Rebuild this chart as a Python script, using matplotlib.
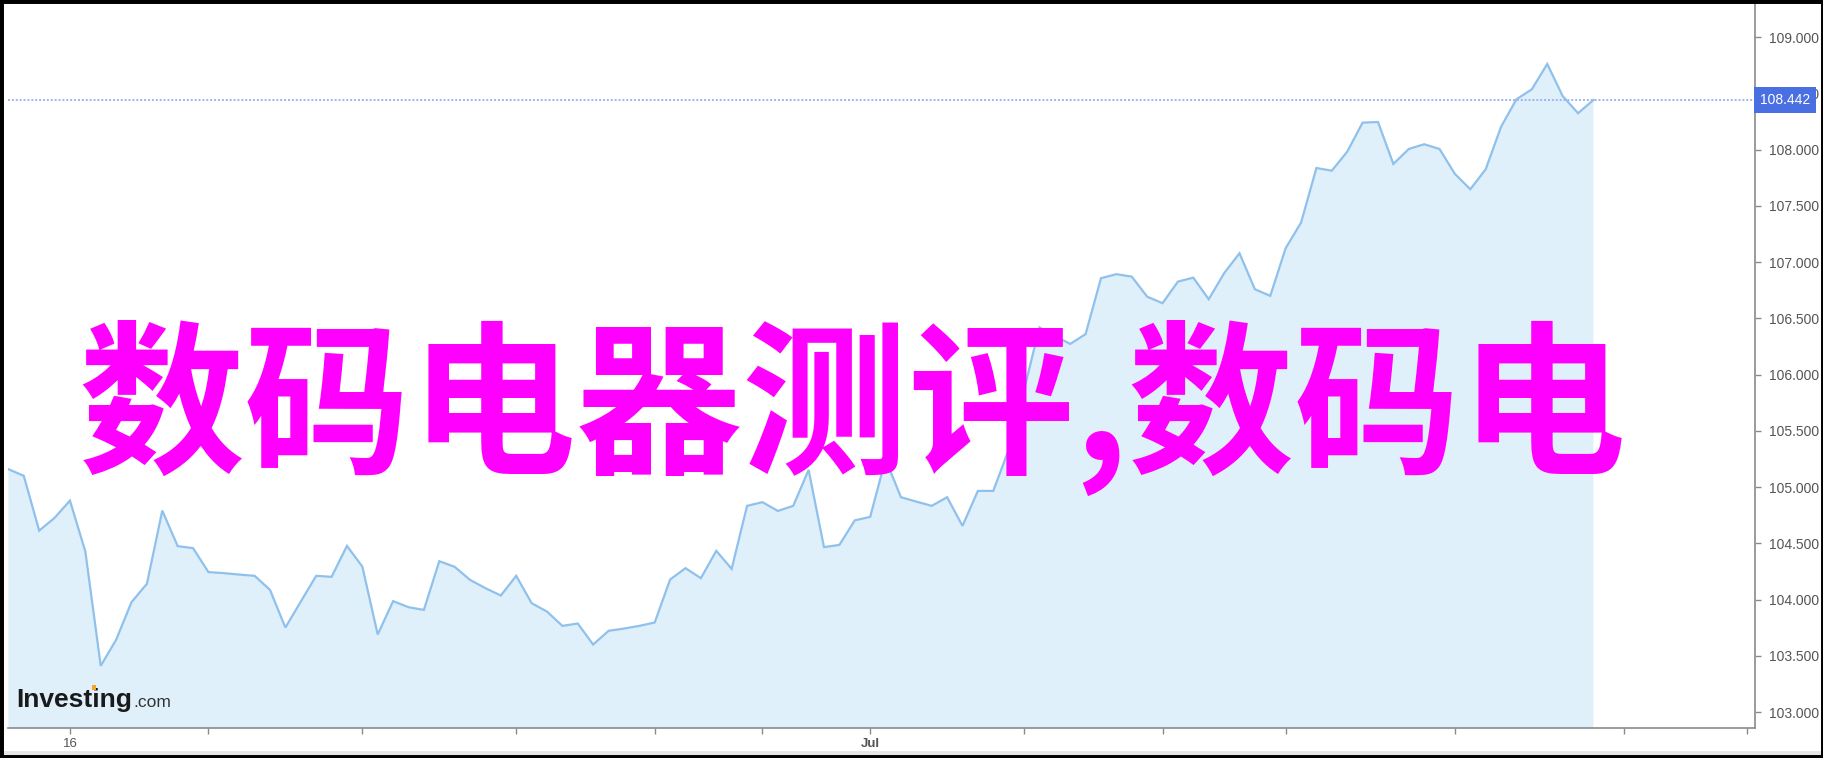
import numpy as np
import matplotlib
matplotlib.use("Agg")
import matplotlib.pyplot as plt
import matplotlib.transforms as mtransforms
from matplotlib.patches import Rectangle

# ---------------- data ----------------
prices = [
    105.159, 105.100, 104.613, 104.726, 104.880, 104.427, 103.411, 103.642, 103.977, 104.140,
    104.791, 104.475, 104.457, 104.244, 104.235, 104.222, 104.211, 104.086, 103.751, 103.982,
    104.211, 104.202, 104.477, 104.293, 103.689, 103.986, 103.932, 103.908, 104.341, 104.291,
    104.175, 104.101, 104.036, 104.211, 103.968, 103.893, 103.766, 103.787, 103.600, 103.722,
    103.742, 103.766, 103.796, 104.178, 104.279, 104.190, 104.433, 104.273, 104.833, 104.866,
    104.788, 104.833, 105.153, 104.466, 104.486, 104.704, 104.735, 105.248, 104.910, 104.871,
    104.833, 104.910, 104.655, 104.966, 104.966, 105.331, 105.864, 106.420, 106.344, 106.273,
    106.360, 106.857, 106.893, 106.871, 106.693, 106.635, 106.827, 106.862, 106.670, 106.901,
    107.079, 106.759, 106.700, 107.124, 107.351, 107.837, 107.813, 107.982, 108.240, 108.246,
    107.873, 108.006, 108.048, 108.006, 107.784, 107.648, 107.826, 108.204, 108.448, 108.537,
    108.762, 108.477, 108.324, 108.442,
]
last_price = 108.442
x_tick_index = [4, 13, 23, 33, 42, 49, 56, 66, 75, 83, 94, 105, 113]
x_tick_labels = ["16", "", "", "", "", "", "Jul", "", "", "", "", "", ""]
y_ticks = [103.0, 103.5, 104.0, 104.5, 105.0, 105.5, 106.0, 106.5, 107.0, 107.5, 108.0, 108.5, 109.0]
y_tick_labels = ["103.000", "103.500", "104.000", "104.500", "105.000", "105.500", "106.000",
                 "106.500", "107.000", "107.500", "108.000", "108.500", "109.000"]
overlay_title = "数码电器测评,数码电"

# ---------------- figure ----------------
W, H = 1824, 758
fig = plt.figure(figsize=(W / 100, H / 100), dpi=100)
fig.patch.set_facecolor("white")

left_px, right_px, top_px, bottom_px = 8.4, 1755, 3, 728
ax = fig.add_axes([left_px / W, 1 - bottom_px / H, (right_px - left_px) / W, (bottom_px - top_px) / H])
ax.set_facecolor("white")

x = np.arange(len(prices))
ax.fill_between(x, prices, 102.0, color="#dff0fa", lw=0, zorder=1)
ax.plot(x, prices, color="#8fc1ec", lw=1.6, zorder=2, solid_joinstyle="miter")

ax.set_xlim(0, 113.5)
ax.set_ylim(102.858, 109.304)

# dotted last price line
ax.axhline(last_price, color="#9fb3f2", lw=1.4, ls=(0, (1, 1)), zorder=3)

# axes styling
for s in ["top", "left"]:
    ax.spines[s].set_visible(False)
for s in ["right", "bottom"]:
    ax.spines[s].set_color("#8a8a8a")
    ax.spines[s].set_linewidth(1.2)

ax.yaxis.tick_right()
ax.set_yticks(y_ticks)
ax.set_yticklabels(y_tick_labels)
ax.tick_params(axis="y", direction="out", length=4, width=1, color="#8a8a8a",
               pad=6, labelsize=10, labelcolor="#555555")
ax.set_xticks(x_tick_index)
ax.set_xticklabels(x_tick_labels)
ax.tick_params(axis="x", direction="out", length=4, width=1, color="#8a8a8a",
               pad=3, labelsize=9.5, labelcolor="#555555")
for lab in ax.get_xticklabels() + ax.get_yticklabels():
    lab.set_fontfamily(["Liberation Sans", "DejaVu Sans"])
for lab in ax.get_xticklabels():
    if lab.get_text() == "Jul":
        lab.set_fontweight("bold")

# last price label box (sits over the 108.500 tick label, as in the original)
trans = mtransforms.blended_transform_factory(ax.transAxes, ax.transData)
trans = mtransforms.offset_copy(trans, fig=fig, x=5, y=0, units="dots")
ax.text(1.0, last_price, "108.442", transform=trans, ha="left", va="center",
        fontsize=10, color="white", family=["Liberation Sans", "DejaVu Sans"],
        bbox=dict(boxstyle="square,pad=0.4", facecolor="#4a6fe3", edgecolor="none"),
        zorder=10, clip_on=False)

# logo
fig.text(16 / W, 1 - 707 / H, "Investing", fontsize=19, fontweight="bold",
         family=["Liberation Sans", "DejaVu Sans"], color="#1a1a1a", ha="left", va="baseline")
fig.text(133 / W, 1 - 707 / H, ".com", fontsize=12.5, family=["Liberation Sans", "DejaVu Sans"],
         color="#333333", ha="left", va="baseline")
fig.patches.append(Rectangle((92.5 / W, 1 - 690 / H), 3.5 / W, 5 / H, transform=fig.transFigure,
                             facecolor="#f5a623", edgecolor="none", zorder=20))

# overlay title
fig.text(78 / W, 1 - 409 / H, overlay_title, fontsize=119.5, fontweight="bold",
         family=["Noto Sans CJK SC", "DejaVu Sans"], color="#ff00ff", ha="left", va="center",
         zorder=30)

# bottom grey strip and black border
fig.patches.append(Rectangle((0, 3 / H), 1, 4 / H, transform=fig.transFigure,
                             facecolor="#e6e6e6", edgecolor="none", zorder=40))
fig.patches.append(Rectangle((0, 0), 1, 1, transform=fig.transFigure, fill=False,
                             edgecolor="black", linewidth=5, zorder=50))

fig.savefig("out.png", dpi=100, facecolor="white")
